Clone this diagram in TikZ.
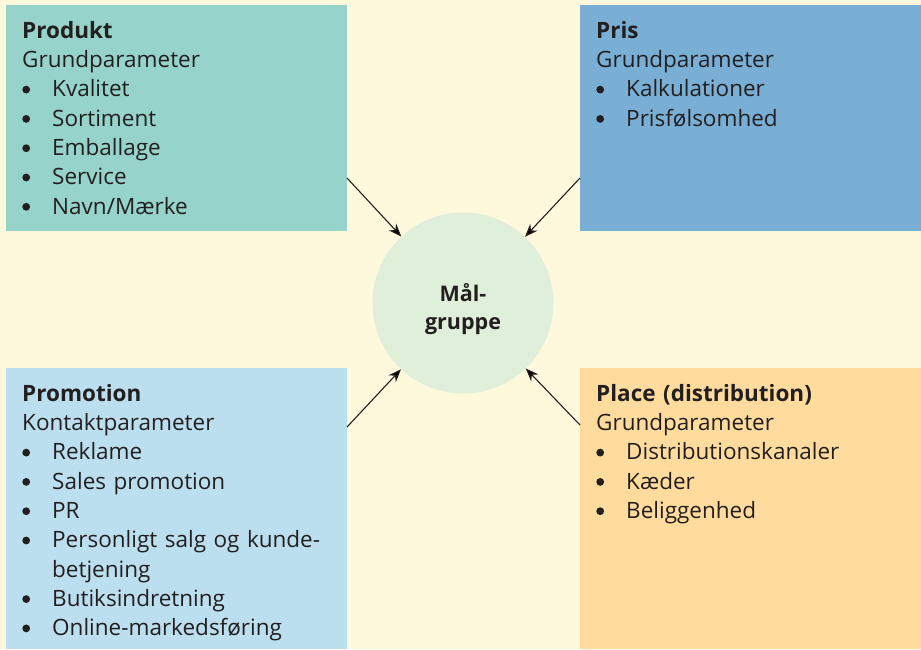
\documentclass[tikz,border=0pt]{standalone}
\usepackage{fontspec}
\setmainfont{Open Sans}
\usetikzlibrary{arrows.meta}

\definecolor{paper}{HTML}{FEF8DC}
\definecolor{produktfill}{HTML}{96D4CB}
\definecolor{prisfill}{HTML}{79AFD5}
\definecolor{promofill}{HTML}{BCDFEF}
\definecolor{placefill}{HTML}{FFDC9D}
\definecolor{goalfill}{HTML}{E0EFD9}
\definecolor{ink}{HTML}{231F20}

% round bullet drawn as a small disc, and bullet item with hanging indent
\newcommand\bigdot{\tikz[baseline=0pt,x=1pt,y=1pt]{\path (0,0) rectangle (8,1);\fill[ink] (4,7.3) circle (3.9pt);}}
\newcommand\bitem[1]{\par\hangindent=30pt\hangafter=1\noindent\makebox[30pt][l]{\bigdot}#1}

\begin{document}
\begin{tikzpicture}[x=1pt,y=-1pt,
  paneltext/.style={anchor=north west, inner sep=0pt, text width=310pt,
    align=left, text=ink, font=\fontsize{22.5}{29.3}\selectfont},
  goal/.style={circle, fill=goalfill, minimum size=181pt, inner sep=0pt},
  goaltext/.style={align=center, inner sep=0pt, text=ink,
    font=\fontsize{21.5}{28}\selectfont\bfseries},
  feed/.style={draw=ink, line width=1.1pt, -{Stealth[length=13pt,width=10pt]}}
]
% page
\fill[paper] (0,0) rectangle (921,649);
\useasboundingbox (0,0) rectangle (921,649);

% four parameter panels
\fill[produktfill] (6,5) rectangle (347,231);
\fill[prisfill] (580,5) rectangle (921,231);
\fill[promofill] (6,368) rectangle (347,649);
\fill[placefill] (580,368) rectangle (921,649);

\node[paneltext] (produkt) at (22,21) {\textbf{Produkt}\par Grundparameter
  \bitem{Kvalitet}\bitem{Sortiment}\bitem{Emballage}\bitem{Service}\bitem{Navn/Mærke}};
\node[paneltext] (pris) at (596,21) {\textbf{Pris}\par Grundparameter
  \bitem{Kalkulationer}\bitem{Prisfølsomhed}};
\node[paneltext] (promo) at (22,384) {\textbf{Promotion}\par Kontaktparameter
  \bitem{Reklame}\bitem{Sales promotion}\bitem{PR}
  \bitem{Personligt salg og kunde-\newline betjening}\bitem{Butiksindretning}
  \bitem{Online-markedsføring}};
\node[paneltext] (place) at (596,384) {\textbf{Place (distribution)}\par Grundparameter
  \bitem{Distributionskanaler}\bitem{Kæder}\bitem{Beliggenhed}};

% target group in the middle
\node[goal] (maal) at (463,303) {};
\node[goaltext] (maaltext) at (463,309) {Mål-\\gruppe};

% connectors from the panel edges
\coordinate (fromprodukt) at (347,178);
\coordinate (frompris) at (580,178);
\coordinate (frompromo) at (347,427);
\coordinate (fromplace) at (580,425);
\draw[feed] (fromprodukt) -- (maal);
\draw[feed] (frompris) -- (maal);
\draw[feed] (frompromo) -- (maal);
\draw[feed] (fromplace) -- (maal);
\end{tikzpicture}
\end{document}
